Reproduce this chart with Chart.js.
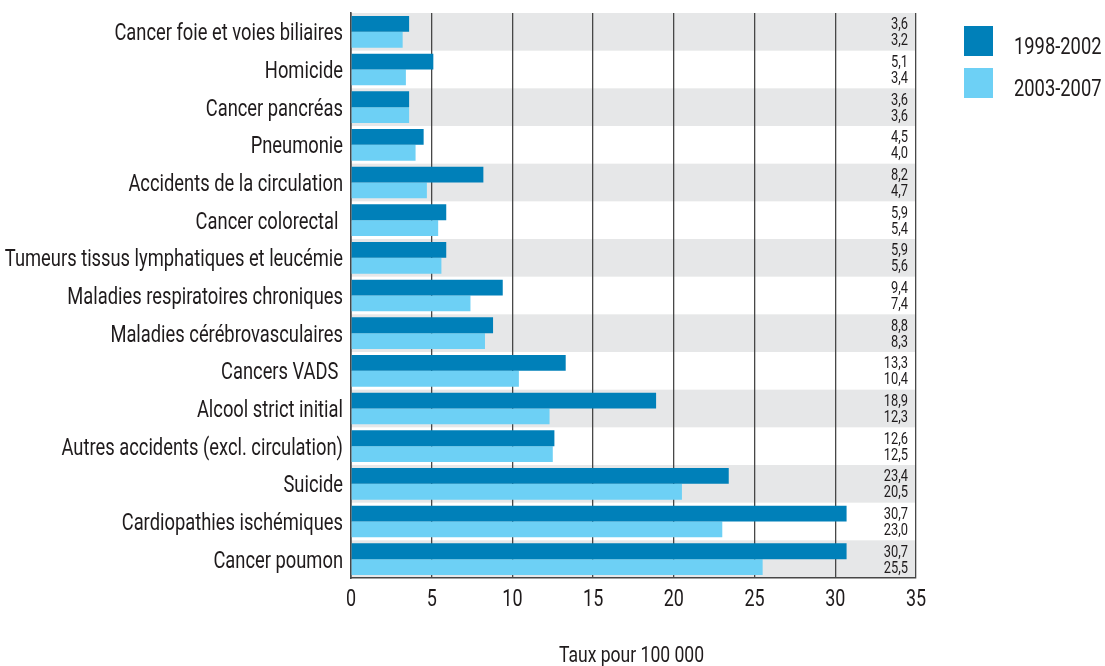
<!DOCTYPE html>
<html>
<head>
<meta charset="utf-8">
<script src="https://cdn.jsdelivr.net/npm/chart.js@4"></script>
<style>
  html, body { margin: 0; padding: 0; background: #fff; }
  #wrap { position: relative; width: 1105px; height: 666px; }
</style>
</head>
<body>
<div id="wrap"><canvas id="c" width="1105" height="666"></canvas></div>
<script>
const FONT = 'Roboto, "Noto Sans", sans-serif';

const categories = [
  'Cancer foie et voies biliaires',
  'Homicide',
  'Cancer pancréas',
  'Pneumonie',
  'Accidents de la circulation',
  'Cancer colorectal ',
  'Tumeurs tissus lymphatiques et leucémie',
  'Maladies respiratoires chroniques',
  'Maladies cérébrovasculaires',
  'Cancers VADS ',
  'Alcool strict initial',
  'Autres accidents (excl. circulation)',
  'Suicide',
  'Cardiopathies ischémiques',
  'Cancer poumon'
];
const period1Label = '1998-2002';
const period2Label = '2003-2007';
const period1 = [3.6, 5.1, 3.6, 4.5, 8.2, 5.9, 5.9, 9.4, 8.8, 13.3, 18.9, 12.6, 23.4, 30.7, 30.7];
const period2 = [3.2, 3.4, 3.6, 4.0, 4.7, 5.4, 5.6, 7.4, 8.3, 10.4, 12.3, 12.5, 20.5, 23.0, 25.5];
const xTicks = [0, 5, 10, 15, 20, 25, 30, 35];
const xTitle = 'Taux pour 100 000';

const DARK = '#0080b9';
const LIGHT = '#6dd0f5';
const BAND = '#e6e7e8';
const TEXT = '#1f1b1c';
const LINE = '#474747';

const fmt = v => v.toFixed(1).replace('.', ',');

// horizontal squeeze giving the narrow, condensed lettering
const SQUEEZE = 0.78;

function narrowText(ctx, txt, x, y, size, align) {
  ctx.save();
  ctx.font = size + 'px ' + FONT;
  ctx.fillStyle = TEXT;
  ctx.textAlign = align;
  ctx.textBaseline = 'alphabetic';
  ctx.translate(x, y);
  ctx.scale(SQUEEZE, 1);
  ctx.fillText(txt, 0, 0);
  ctx.restore();
}

// alternating grey bands behind each category row
const bandsPlugin = {
  id: 'bands',
  beforeDraw(chart) {
    const { ctx, chartArea: a, scales: { y } } = chart;
    const step = (a.bottom - a.top) / categories.length;
    ctx.save();
    ctx.fillStyle = BAND;
    categories.forEach((c, i) => {
      if (i % 2 === 0) {
        const yc = y.getPixelForValue(i);
        ctx.fillRect(a.left, yc - step / 2, a.right - a.left, step);
      }
    });
    ctx.restore();
  }
};

// axis labels, value pairs and legend
const textPlugin = {
  id: 'texts',
  afterDraw(chart) {
    const { ctx, chartArea: a, scales: { x, y } } = chart;

    categories.forEach((c, i) => {
      narrowText(ctx, c, a.left - 8, y.getPixelForValue(i) + 8.5, 23.5, 'right');
    });

    xTicks.forEach(v => {
      narrowText(ctx, String(v), x.getPixelForValue(v), a.bottom + 28, 23, 'center');
    });

    narrowText(ctx, xTitle, (a.left + a.right) / 2 - 2, 662, 22.5, 'center');

    chart.data.datasets.forEach((ds, di) => {
      chart.getDatasetMeta(di).data.forEach((bar, i) => {
        narrowText(ctx, fmt(ds.data[i]), a.right - 8, bar.y + 5.5, 16.5, 'right');
      });
    });

    const items = [[DARK, period1Label], [LIGHT, period2Label]];
    items.forEach(([col, txt], i) => {
      const top = 26 + i * 42;
      ctx.fillStyle = col;
      ctx.fillRect(964, top, 29, 30);
      narrowText(ctx, txt, 1014, top + 28, 23.5, 'left');
    });
  }
};

new Chart(document.getElementById('c'), {
  type: 'bar',
  data: {
    labels: categories,
    datasets: [
      { label: period1Label, data: period1, backgroundColor: DARK, categoryPercentage: 0.84, barPercentage: 1.0 },
      { label: period2Label, data: period2, backgroundColor: LIGHT, categoryPercentage: 0.84, barPercentage: 1.0 }
    ]
  },
  options: {
    indexAxis: 'y',
    responsive: false,
    animation: false,
    layout: { padding: { top: 13, right: 189, left: 0, bottom: 0 } },
    plugins: { legend: { display: false }, tooltip: { enabled: false } },
    scales: {
      x: {
        min: 0, max: 35,
        afterBuildTicks: s => { s.ticks = xTicks.map(v => ({ value: v })); },
        afterFit: s => { s.height = 88; },
        grid: { color: LINE, lineWidth: 1.3, drawTicks: false },
        border: { color: LINE, width: 1.6 },
        ticks: { display: false }
      },
      y: {
        afterFit: s => { s.width = 351; },
        grid: { display: false, drawTicks: false },
        border: { color: LINE, width: 1.6 },
        ticks: { display: false }
      }
    }
  },
  plugins: [bandsPlugin, textPlugin]
});
</script>
</body>
</html>
